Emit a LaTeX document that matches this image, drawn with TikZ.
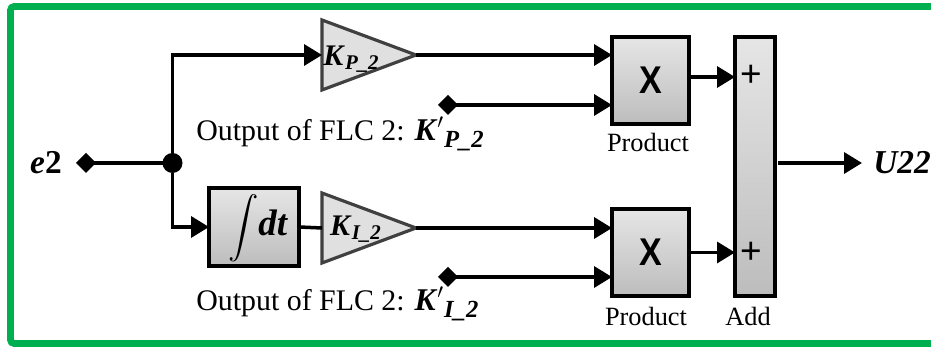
\documentclass[tikz,border=0pt]{standalone}
\usepackage{amsmath}
\usepackage{fontspec}
\setmainfont{Liberation Serif}
\newfontfamily\xfont{Liberation Sans}
\usetikzlibrary{arrows.meta,shapes.geometric,shadows}
\newcommand{\bi}[1]{\textbf{\textit{#1}}}
\newcommand{\flc}[1]{Output of FLC 2: {\fontsize{18}{20}\selectfont$\bi{K}^{\prime}$}\raisebox{-4pt}{\fontsize{14}{15}\selectfont\bi{#1\_2}}}
\tikzset{
  wire/.style={line width=2pt},
  arr/.style={wire,-{Triangle[length=.36cm,width=.42cm]}},
  block/.style={draw,line width=2.2pt,rectangle,outer sep=0pt,top color=black!10,bottom color=black!26,inner sep=0pt,drop shadow={opacity=.35,shadow xshift=.04cm,shadow yshift=-.05cm}},
  gain/.style={draw=black!75,line width=1.8pt,fill=black!12,isosceles triangle,isosceles triangle apex angle=41,isosceles triangle stretches,minimum width=1.4cm,minimum height=1.88cm,inner sep=0pt,outer sep=0pt,anchor=apex},
  port/.style={diamond,fill=black,inner sep=0pt,outer sep=0pt,minimum size=.4cm},
  txt/.style={font=\fontsize{17}{20}\selectfont,inner sep=0pt},
  small/.style={font=\fontsize{15}{18}\selectfont,inner sep=0pt},
  big/.style={font=\fontsize{19}{22}\selectfont,inner sep=0pt},
  plus/.style={font=\xfont\fontsize{21}{22}\selectfont,inner sep=0pt},
  prod/.style={block,minimum width=1.54cm,minimum height=1.74cm,font=\xfont\fontsize{22}{24}\selectfont\bfseries}
}
\begin{document}
\begin{tikzpicture}
\useasboundingbox (0,0) rectangle (18.62,6.94);
\draw[line width=3.8pt,color={rgb,255:red,0;green,176;blue,80},rounded corners=2pt] (18.62,6.81) -- (.21,6.81) -- (.21,.07) -- (18.62,.07);

\node[big] (e2) at (.92,3.68) {\bi{e}\textbf{2}};
\node[port] (in) at (1.72,3.68) {};
\node[circle,fill=black,inner sep=0pt,outer sep=0pt,minimum size=.4cm] (jct) at (3.45,3.68) {};
\node[gain] (gainp) at (8.32,5.84) {};
\node[gain] (gaini) at (8.32,2.38) {};
\node[block,minimum width=1.8cm,minimum height=1.56cm] (integ) at (5.08,2.4) {};
\node[prod] (prodp) at (13.01,5.33) {\scalebox{.88}[1]{X}};
\node[prod] (prodi) at (13.01,1.89) {\scalebox{.88}[1]{X}};
\node[block,minimum width=.8cm,minimum height=5.18cm] (addb) at (15.1,3.61) {};
\node[port] (dp) at (8.96,4.84) {};
\node[port] (di) at (8.96,1.4) {};
\node[big,anchor=west] (u22) at (17.46,3.68) {\bi{U22}};

% texts on the blocks
\node[txt] (kp) at (7.03,5.76) {$\bi{K}_{\bi{P\_2}}$};
\node[txt] (ki) at (7.12,2.36) {$\bi{K}_{\bi{I\_2}}$};
\node[txt] (intt) at (5.16,2.38) {$\displaystyle\int$\hspace{0pt}{\fontsize{21}{22}\selectfont\bi{dt}}};
\node[plus] (pl1) at (15.02,5.42) {+};
\node[plus] (pl2) at (15.02,1.89) {+};
\node[txt,anchor=west] (lp) at (3.92,4.26) {\flc{P}};
\node[txt,anchor=west] (li) at (3.92,.86) {\flc{I}};
\node[small] (np) at (12.96,4.1) {Product};
\node[small] (ni) at (12.92,.62) {Product};
\node[small] (na) at (14.96,.62) {Add};

\draw[wire] (in.center) -- (jct);
\draw[arr] (jct) |- (gainp.lower side);
\draw[arr] (jct) |- (integ.west);
\draw[wire] (integ.east) -- (gaini.lower side);
\draw[arr] (gainp.apex) -- (gainp.apex -| prodp.west);
\draw[arr] (gaini.apex) -- (gaini.apex -| prodi.west);
\draw[arr] (dp.center) -- (dp -| prodp.west);
\draw[arr] (di.center) -- (di -| prodi.west);
\draw[arr] ([yshift=.07cm]prodp.east) -- ([yshift=.07cm]prodp.east -| addb.west);
\draw[arr] (prodi.east) -- (prodi.east -| addb.west);
\draw[arr] ([xshift=.06cm]addb.east |- u22.west) -- ([xshift=-.22cm]u22.west);
\end{tikzpicture}
\end{document}
